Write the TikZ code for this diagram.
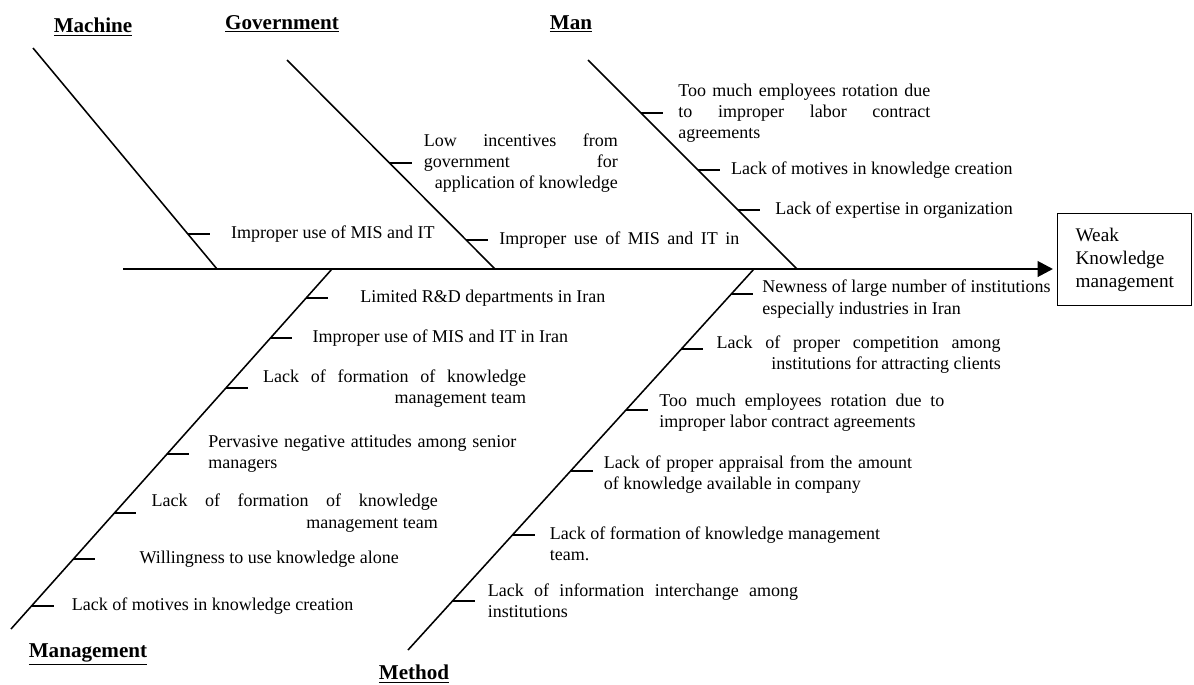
\documentclass[tikz,border=0pt]{standalone}
\usepackage{fontspec}
\setmainfont{Liberation Serif}
\usetikzlibrary{positioning, arrows.meta, calc}
\newcommand{\spread}[2]{\makebox[#1][s]{#2}}

\begin{document}
\begin{tikzpicture}[x=0.025cm, y=-0.025cm,
  bone/.style={line width=1.1pt},
  spine/.style={line width=2pt, -{Triangle[length=11pt, width=11pt]}, shorten >=0.1cm},
  tick/.style={line width=1pt},
  lbl/.style={inner xsep=0.3cm, inner ysep=0pt, font=\fontsize{12.8}{15}\selectfont},
  title/.style={inner sep=0pt, font=\fontsize{15}{18}\selectfont\bfseries},
  wbox/.style={draw, line width=0.8pt, minimum width=3.35cm, minimum height=2.3cm,
    text width=2.45cm, inner xsep=0.45cm, align=left, font=\fontsize{13.7}{16.4}\selectfont}
]
  \useasboundingbox (0,0) rectangle (1194,684);

  % bone ends
  \coordinate (Mtop) at (33,48);   \coordinate (Mbot) at (217,269);
  \coordinate (Gtop) at (287,60);  \coordinate (Gbot) at (495,269);
  \coordinate (Ntop) at (588,60);  \coordinate (Nbot) at (797,269);
  \coordinate (Atop) at (332,269); \coordinate (Abot) at (11,629);
  \coordinate (Ttop) at (754,269); \coordinate (Tbot) at (408,650);
  \coordinate (S0) at (123,269);

  % tick points on the bones
  \coordinate (M1) at ($(Mtop)!0.842!(Mbot)$);
  \foreach \p [count=\i] in {0.493,0.861}
    \coordinate (G\i) at ($(Gtop)!\p!(Gbot)$);
  \foreach \p [count=\i] in {0.254,0.526,0.718}
    \coordinate (N\i) at ($(Ntop)!\p!(Nbot)$);
  \foreach \p [count=\i] in {0.081,0.192,0.331,0.514,0.678,0.806,0.936}
    \coordinate (A\i) at ($(Atop)!\p!(Abot)$);
  \foreach \p [count=\i] in {0.066,0.210,0.370,0.530,0.698,0.871}
    \coordinate (T\i) at ($(Ttop)!\p!(Tbot)$);

  \node[wbox, anchor=north west] (bx) at (1057,213) {Weak\\Knowledge\\management};
  \draw[spine] (S0) -- (S0 -| bx.west);
  \foreach \b in {M,G,N,A,T}
    \draw[bone] (\b top) -- (\b bot);

  % titles
  \node[title] (tMach) at (93,27) {\underline{Machine}};
  \node[title] (tGov) at (282,24) {\underline{Government}};
  \node[title] (tMan) at (571,24) {\underline{Man}};
  \node[title] (tMgmt) at (88,654) {\underline{Management}};
  \node[title] (tMeth) at (414,674) {\underline{Method}};

  % machine
  \node[lbl, right=0.55cm of M1, inner xsep=0.525cm] (LM1) {Improper use of MIS and IT};

  % government
  \node[lbl, right=0.55cm of G1, align=right] (LG1)
    {\spread{4.85cm}{Low incentives from}\\\spread{4.85cm}{government for}\\application of knowledge};
  \node[lbl, right=0.55cm of G2, inner xsep=0.275cm] (LG2) {\spread{6cm}{Improper use of MIS and IT in}};

  % man
  \node[lbl, right=0.55cm of N1, inner xsep=0.375cm, align=left] (LN1)
    {\spread{6.3cm}{Too much employees rotation due}\\\spread{6.3cm}{to improper labor contract}\\agreements};
  \node[lbl, right=0.55cm of N2, inner xsep=0.275cm] (LN2) {Lack of motives in knowledge creation};
  \node[lbl, right=0.55cm of N3, inner xsep=0.375cm] (LN3) {Lack of expertise in organization};

  % management
  \node[lbl, right=0.55cm of A1, inner xsep=0.8cm] (LA1) {Limited R\&D departments in Iran};
  \node[lbl, right=0.55cm of A2, inner xsep=0.5cm] (LA2) {Improper use of MIS and IT in Iran};
  \node[lbl, right=0.55cm of A3, inner xsep=0.375cm, align=right] (LA3)
    {\spread{6.575cm}{Lack of formation of knowledge}\\management team};
  \node[lbl, right=0.55cm of A4, inner xsep=0.475cm, align=left] (LA4)
    {\spread{7.7cm}{Pervasive negative attitudes among senior}\\managers};
  \node[lbl, right=0.55cm of A5, inner xsep=0.375cm, align=right] (LA5)
    {\spread{7.15cm}{Lack of formation of knowledge}\\management team};
  \node[lbl, right=0.55cm of A6, inner xsep=1.1cm] (LA6) {Willingness to use knowledge alone};
  \node[lbl, right=0.55cm of A7, inner xsep=0.45cm] (LA7) {Lack of motives in knowledge creation};

  % method
  \node[lbl, right=0.55cm of T1, inner xsep=0.225cm, yshift=-0.125cm, align=left] (LT1)
    {Newness of large number of institutions\\especially industries in Iran};
  \node[lbl, right=0.55cm of T2, inner xsep=0.325cm, yshift=-0.15cm, align=right] (LT2)
    {\spread{7.1cm}{Lack of proper competition among}\\institutions for attracting clients};
  \node[lbl, right=0.55cm of T3, inner xsep=0.275cm, yshift=-0.075cm, align=left] (LT3)
    {\spread{7.125cm}{Too much employees rotation due to}\\improper labor contract agreements};
  \node[lbl, right=0.55cm of T4, inner xsep=0.275cm, yshift=-0.1cm, align=left] (LT4)
    {\spread{7.7cm}{Lack of proper appraisal from the amount}\\of knowledge available in company};
  \node[lbl, right=0.55cm of T5, inner xsep=0.375cm, yshift=-0.225cm, align=left] (LT5)
    {Lack of formation of knowledge management\\team.};
  \node[lbl, right=0.55cm of T6, inner xsep=0.325cm, align=left] (LT6)
    {\spread{7.75cm}{Lack of information interchange among}\\institutions};

  \foreach \n in {M1,G1,G2,N1,N2,N3,A1,A2,A3,A4,A5,A6,A7,T1,T2,T3,T4,T5,T6}
    \draw[tick] (\n) -- (\n -| L\n.west);
\end{tikzpicture}
\end{document}
